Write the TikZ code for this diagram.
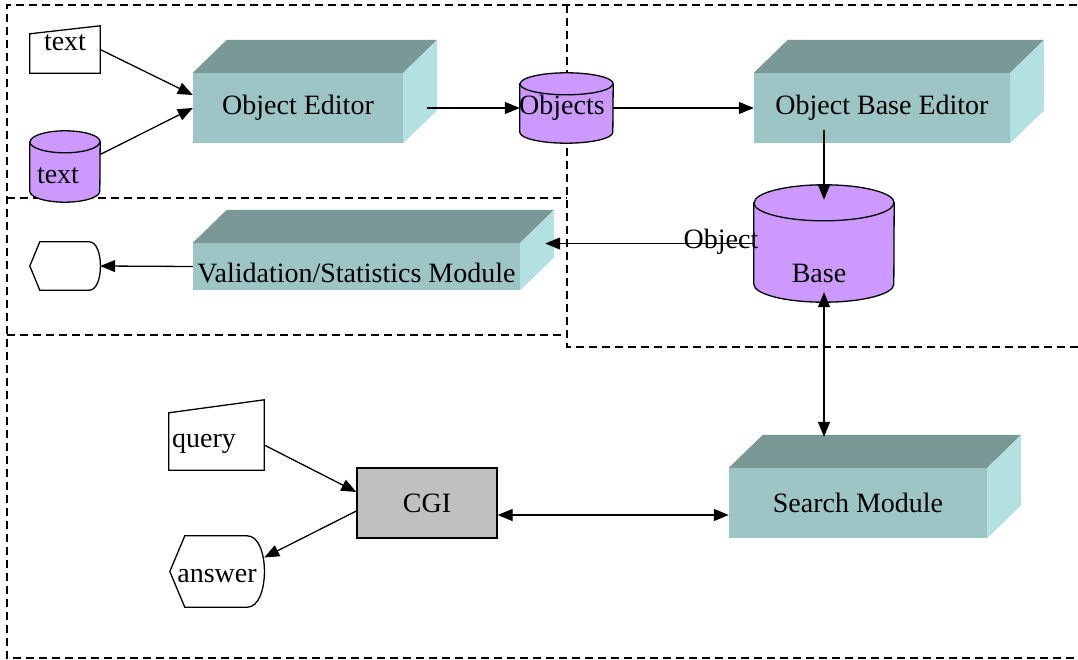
\documentclass[tikz,border=0pt]{standalone}
\usepackage{fontspec}
\setmainfont{Liberation Serif}
\usetikzlibrary{positioning, arrows.meta}

\definecolor{slabfront}{RGB}{157,197,197}
\definecolor{slabtop}{RGB}{121,152,150}
\definecolor{slabside}{RGB}{179,225,225}
\definecolor{dbpurple}{RGB}{204,153,255}
\definecolor{cgigray}{RGB}{192,192,192}

% top and right faces of a module block
\newcommand{\slabfaces}[1]{%
  \fill[slabtop] (#1.north west) -- ++(34,-33) -- ([shift={(34,-33)}]#1.north east) -- (#1.north east) -- cycle;
  \fill[slabside] (#1.north east) -- ++(34,-33) -- ([shift={(34,-33)}]#1.south east) -- (#1.south east) -- cycle;
}
% store drawn round a blank node: name, half width, cap radius
\newcommand{\dbdraw}[3]{%
  \filldraw[dbline] ([yshift=-#3pt]#1.north west) -- ([yshift=#3pt]#1.south west)
    arc[start angle=180, end angle=360, x radius=#2pt, y radius=#3pt]
    -- ([yshift=-#3pt]#1.north east)
    arc[start angle=0, end angle=180, x radius=#2pt, y radius=#3pt] -- cycle;
  \draw[dbline] ([yshift=-#3pt]#1.north west) arc[start angle=180, end angle=360, x radius=#2pt, y radius=#3pt];
}

\begin{document}
\begin{tikzpicture}[x=1pt, y=-1pt, font=\fontsize{28}{32}\selectfont,
  frame/.style={dash pattern=on 8pt off 5pt, line width=1.5pt},
  slab/.style={rectangle, fill=slabfront, inner sep=0pt},
  dbline/.style={fill=dbpurple, line width=1.3pt},
  outl/.style={line width=1.3pt},
  blank/.style={rectangle, inner sep=0pt},
  arr/.style={-{Triangle[length=15pt,width=12pt]}, line width=1.3pt},
  biarr/.style={{Triangle[length=15pt,width=12pt]}-{Triangle[length=15pt,width=12pt]}, line width=1.3pt}]

  \useasboundingbox (0,0) rectangle (1078,660);

  % dashed groups
  \draw[frame] (1090,5) -- (7,5) -- (7,658) -- (1090,658);
  \draw[frame] (7,198) -- (567,198);
  \draw[frame] (7,335) -- (567,335);
  \draw[frame] (567,5) -- (567,347) -- (1090,347);

  % modules
  \node[slab, minimum width=210, minimum height=70] (oe) at (298,108) {Object Editor};
  \node[slab, minimum width=256, minimum height=70] (obe) at (882,108) {Object Base Editor};
  \node[slab, minimum width=327, minimum height=47, text height=31pt, text depth=0pt] (vsm) at (356.5,266.5) {Validation/Statistics Module};
  \node[slab, minimum width=258, minimum height=70] (sm) at (858,503) {Search Module};
  \slabfaces{oe}
  \slabfaces{obe}
  \slabfaces{vsm}
  \slabfaces{sm}

  % stores
  \node[blank, minimum width=93, minimum height=70] (objs) at (566.5,108) {};
  \dbdraw{objs}{46.5}{11}
  \node[blank, anchor=base] (objsl) at (562,115) {Objects};
  \node[blank, minimum width=70, minimum height=71] (tcyl) at (65,166.5) {};
  \dbdraw{tcyl}{35}{11}
  \node[blank, anchor=base] (tcyll) at (58,184) {text};
  \node[blank, minimum width=140, minimum height=117] (ob) at (824,243.5) {};
  \dbdraw{ob}{70}{18}
  \node[blank, anchor=base] (obl) at (721,249) {Object};
  \node[blank, anchor=base] (obl2) at (819,283) {Base};

  % manual inputs
  \node[blank, minimum width=70, minimum height=47] (tin) at (65,49.5) {};
  \draw[outl] (tin.south west) -- ([yshift=-8pt]tin.north west) -- (tin.north east) -- (tin.south east) -- cycle;
  \node[blank, anchor=base] (tinl) at (65,51) {text};
  \node[blank, minimum width=95, minimum height=70] (q) at (216.5,435) {};
  \draw[outl] (q.south west) -- ([yshift=-13pt]q.north west) -- (q.north east) -- (q.south east) -- cycle;
  \node[blank, anchor=base] (ql) at (204,447) {query};

  % displays
  \node[blank, minimum width=70, minimum height=48] (hx) at (65,266) {};
  \draw[outl] (hx.west) -- ([xshift=10pt]hx.north west) -- ([xshift=-11pt]hx.north east)
    .. controls ([xshift=4pt]hx.north east) and ([xshift=4pt]hx.south east) .. ([xshift=-11pt]hx.south east)
    -- ([xshift=10pt]hx.south west) -- cycle;
  \node[blank, minimum width=94, minimum height=71] (ans) at (217,571.5) {};
  \draw[outl] (ans.west) -- ([xshift=15pt]ans.north west) -- ([xshift=-17pt]ans.north east)
    .. controls ([xshift=6pt]ans.north east) and ([xshift=6pt]ans.south east) .. ([xshift=-17pt]ans.south east)
    -- ([xshift=15pt]ans.south west) -- cycle;
  \node[blank, anchor=base] (ansl) at (217,582) {answer};

  \node[draw, fill=cgigray, line width=1.3pt, minimum width=140, minimum height=70] (cgi) at (427,503) {CGI};

  % flows
  \draw[arr] (tin.east) -- ([yshift=13pt]oe.west);
  \draw[arr] ([yshift=12pt]tcyl.east) -- (oe.west);
  \draw[arr] ([xshift=24pt]oe.east) -- (objs.west);
  \draw[arr] (objs.east) -- (obe.west);
  \draw[arr] ([yshift=13pt]obe.south -| ob.north) -- ([yshift=-15pt]ob.north);
  \draw[arr] (ob.west) -- ([xshift=25pt]vsm.east |- ob.west);
  \draw[arr] (vsm.west) -- (hx.east);
  \draw[biarr] ([yshift=10pt]ob.south) -- ([yshift=31pt]sm.north -| ob.south);
  \draw[arr] ([yshift=-10pt]q.east) -- ([yshift=11pt]cgi.west);
  \draw[arr] ([yshift=-8pt]cgi.west) -- ([yshift=14pt]ans.east);
  \draw[biarr] ([yshift=-12pt]cgi.east) -- ([yshift=-12pt]cgi.east -| sm.west);

\end{tikzpicture}
\end{document}
